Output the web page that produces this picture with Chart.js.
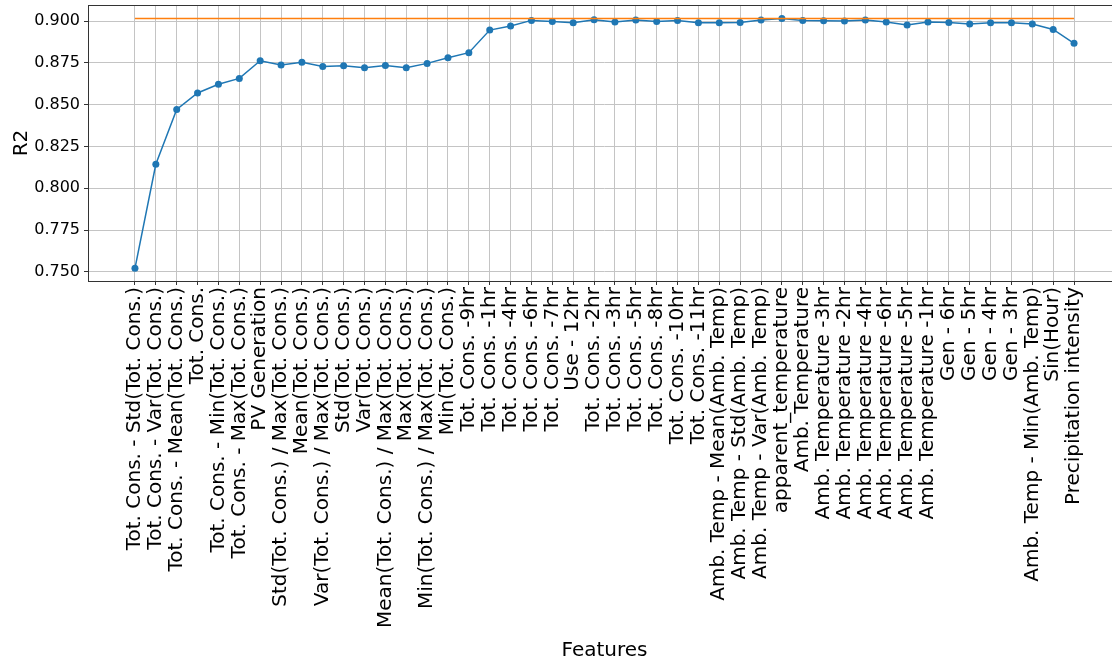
<!DOCTYPE html>
<html>
<head>
<meta charset="utf-8">
<script src="https://cdn.jsdelivr.net/npm/chart.js@4"></script>
<style>
    html, body { margin: 0; padding: 0; background: #fff; overflow: hidden; }
    /* the plot box runs a little past the right edge of the picture, as in the original */
    #wrap { width: 1125px; height: 666px; }
</style>
</head>
<body>
<div id="wrap"><canvas id="r2-chart"></canvas></div>
<script>
// feature names, in the order they were added
const features = [
    'Tot. Cons. - Std(Tot. Cons.)',
    'Tot. Cons. - Var(Tot. Cons.)',
    'Tot. Cons. - Mean(Tot. Cons.)',
    'Tot. Cons.',
    'Tot. Cons. - Min(Tot. Cons.)',
    'Tot. Cons. - Max(Tot. Cons.)',
    'PV Generation',
    'Std(Tot. Cons.) / Max(Tot. Cons.)',
    'Mean(Tot. Cons.)',
    'Var(Tot. Cons.) / Max(Tot. Cons.)',
    'Std(Tot. Cons.)',
    'Var(Tot. Cons.)',
    'Mean(Tot. Cons.) / Max(Tot. Cons.)',
    'Max(Tot. Cons.)',
    'Min(Tot. Cons.) / Max(Tot. Cons.)',
    'Min(Tot. Cons.)',
    'Tot. Cons. -9hr',
    'Tot. Cons. -1hr',
    'Tot. Cons. -4hr',
    'Tot. Cons. -6hr',
    'Tot. Cons. -7hr',
    'Use - 12hr',
    'Tot. Cons. -2hr',
    'Tot. Cons. -3hr',
    'Tot. Cons. -5hr',
    'Tot. Cons. -8hr',
    'Tot. Cons. -10hr',
    'Tot. Cons. -11hr',
    'Amb. Temp - Mean(Amb. Temp)',
    'Amb. Temp - Std(Amb. Temp)',
    'Amb. Temp - Var(Amb. Temp)',
    'apparent_temperature',
    'Amb. Temperature',
    'Amb. Temperature -3hr',
    'Amb. Temperature -2hr',
    'Amb. Temperature -4hr',
    'Amb. Temperature -6hr',
    'Amb. Temperature -5hr',
    'Amb. Temperature -1hr',
    'Gen - 6hr',
    'Gen - 5hr',
    'Gen - 4hr',
    'Gen - 3hr',
    'Amb. Temp - Min(Amb. Temp)',
    'Sin(Hour)',
    'Precipitation intensity'
];

// R2 score after each feature
const r2 = [
    0.7522, 0.8144, 0.8472, 0.8570, 0.8622, 0.8657, 0.8763, 0.8737, 0.8753, 0.8729,
    0.8733, 0.8721, 0.8735, 0.8721, 0.8747, 0.8781, 0.8811, 0.8946, 0.8970, 0.9004,
    0.8998, 0.8990, 0.9008, 0.8994, 0.9006, 0.8998, 0.9004, 0.8990, 0.8990, 0.8992,
    0.9006, 0.9016, 0.9004, 0.9002, 0.9000, 0.9006, 0.8994, 0.8976, 0.8994, 0.8992,
    0.8982, 0.8990, 0.8990, 0.8982, 0.8950, 0.8867
];

// best score reference line
const bestR2 = 0.9016;

const yTicks = [0.750, 0.775, 0.800, 0.825, 0.850, 0.875, 0.900];

const FONT = 'DejaVu Sans';

// box around the plot area (matplotlib spines)
const frame = {
    id: 'frame',
    afterDraw(chart) {
        const a = chart.chartArea;
        const ctx = chart.ctx;
        ctx.save();
        ctx.strokeStyle = '#333';
        ctx.lineWidth = 1;
        ctx.strokeRect(a.left + 0.5, a.top + 0.5, a.right - a.left, a.bottom - a.top);
        ctx.restore();
    }
};

const ctx = document.getElementById('r2-chart').getContext('2d');
new Chart(ctx, {
    type: 'line',
    data: {
        datasets: [
            {
                label: 'best',
                data: [{ x: 0, y: bestR2 }, { x: features.length - 1, y: bestR2 }],
                borderColor: '#ff7f0e',
                borderWidth: 1.5,
                pointRadius: 0,
                tension: 0
            },
            {
                label: 'R2',
                data: r2.map((v, i) => ({ x: i, y: v })),
                borderColor: '#1f77b4',
                backgroundColor: '#1f77b4',
                borderWidth: 1.5,
                pointRadius: 3.5,
                pointBorderWidth: 0,
                tension: 0
            }
        ]
    },
    options: {
        responsive: true,
        maintainAspectRatio: false,
        animation: false,
        layout: { padding: { top: 5, left: 0, right: 0, bottom: 0 } },
        plugins: {
            legend: { display: false },
            tooltip: { enabled: false }
        },
        scales: {
            x: {
                type: 'linear',
                min: -2.25,
                max: 47.25,
                afterBuildTicks: (scale) => {
                    scale.ticks = features.map((f, i) => ({ value: i }));
                },
                afterFit: (scale) => {
                    scale.height = 385;
                    scale.paddingLeft = 0;
                    scale.paddingRight = 0;
                },
                grid: { color: '#c4c4c4', lineWidth: 1, tickLength: 4, tickColor: '#333' },
                border: { display: false },
                ticks: {
                    autoSkip: false,
                    minRotation: 90,
                    maxRotation: 90,
                    padding: 2,
                    color: '#000',
                    font: { family: FONT, size: 20 },
                    callback: (v) => features[v]
                },
                title: {
                    display: true,
                    text: 'Features',
                    color: '#000',
                    font: { family: FONT, size: 20 },
                    padding: { top: 4, bottom: 3 }
                }
            },
            y: {
                min: 0.7446,
                max: 0.9096,
                afterBuildTicks: (scale) => {
                    scale.ticks = yTicks.map(v => ({ value: v }));
                },
                afterFit: (scale) => {
                    scale.width = 88;
                    scale.paddingTop = 0;
                    scale.paddingBottom = 0;
                },
                grid: { color: '#c4c4c4', lineWidth: 1, tickLength: 4, tickColor: '#333' },
                border: { display: false },
                ticks: {
                    padding: 4,
                    color: '#000',
                    font: { family: FONT, size: 16 },
                    callback: (v) => v.toFixed(3)
                },
                title: {
                    display: true,
                    text: 'R2',
                    color: '#000',
                    font: { family: FONT, size: 20 },
                    padding: { top: 10, bottom: 0 }
                }
            }
        }
    },
    plugins: [frame]
});
</script>
</body>
</html>
